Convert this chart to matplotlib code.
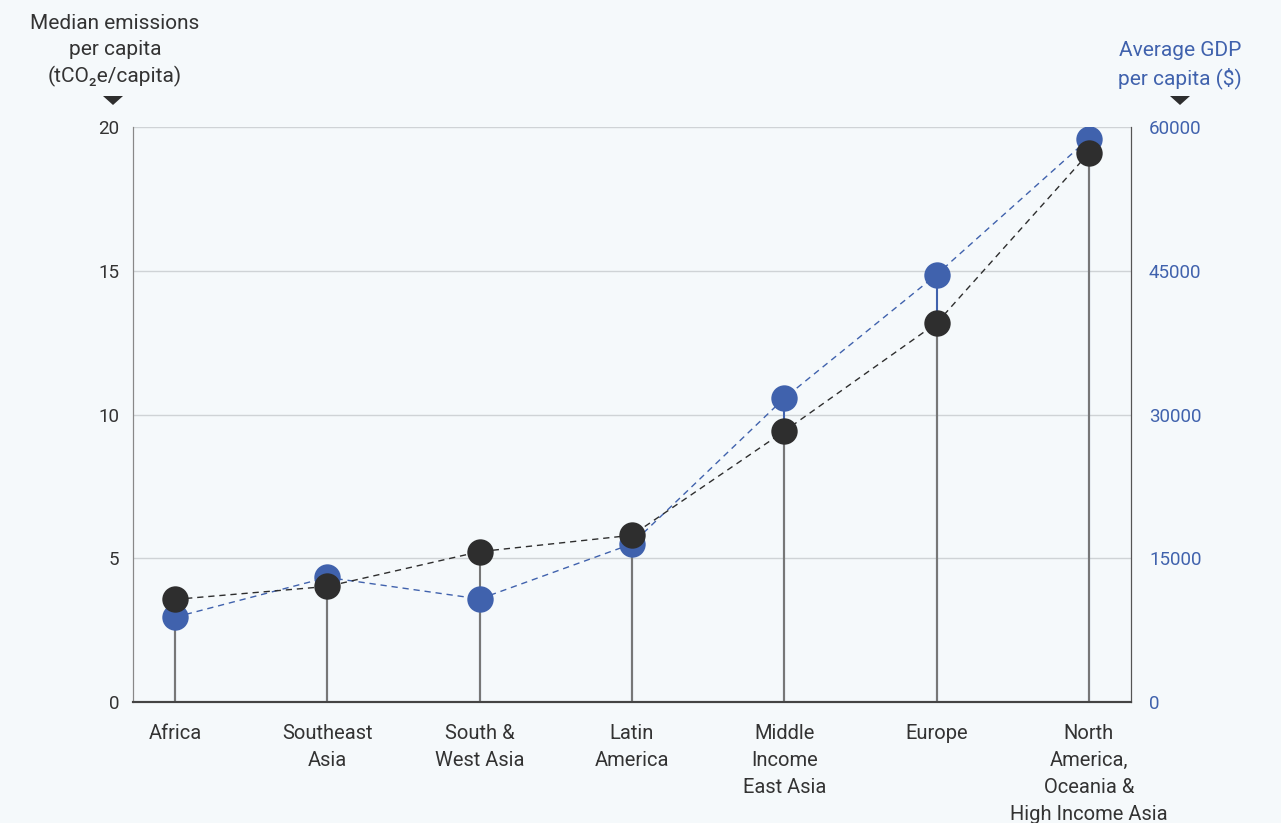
import matplotlib
matplotlib.use("Agg")
import matplotlib.pyplot as plt
from matplotlib.patches import Polygon

regions = ["Africa", "Southeast\nAsia", "South &\nWest Asia", "Latin\nAmerica",
           "Middle\nIncome\nEast Asia", "Europe", "North\nAmerica,\nOceania &\nHigh Income Asia"]
emissions = [3.57, 4.02, 5.23, 5.80, 9.42, 13.18, 19.10]
gdp = [8850, 13000, 10750, 16500, 31700, 44600, 58800]
left_ticks = [0, 5, 10, 15, 20]
right_ticks = [0, 15000, 30000, 45000, 60000]

BG = "#f5f9fb"
BLUE = "#4062ad"
DARK = "#2e2e2e"
TXT = "#333333"
plt.rcParams["font.family"] = ["Roboto", "DejaVu Sans"]

W, H = 1281, 823
fig = plt.figure(figsize=(12.81, 8.23), dpi=100, facecolor=BG)
ax = fig.add_axes([133/W, 1-702/H, (1131-133)/W, (702-127)/H])
ax.set_facecolor(BG)
ax2 = ax.twinx()

x = list(range(len(regions)))
ax.set_xlim(-0.276, 6.276)
ax.set_ylim(0, 20)
ax2.set_ylim(0, 60000)

ax.grid(axis="y", color="#cfd3d6", lw=1)
ax.set_axisbelow(True)

gdp_scaled = [g / 3000 for g in gdp]
# stems
ax.vlines(x, 0, gdp_scaled, color=BLUE, lw=1.5, zorder=2)
ax.vlines(x, 0, emissions, color="#777777", lw=1.5, zorder=3)
# dashed lines
ax.plot(x, gdp_scaled, ls=(0, (4.5, 3.5)), color=BLUE, lw=1, zorder=4)
ax.plot(x, emissions, ls=(0, (4.5, 3.5)), color=DARK, lw=1, zorder=5)
ax.plot(x, gdp_scaled, "o", ms=19, color=BLUE, mec="none", zorder=6)
ax.plot(x, emissions, "o", ms=19, color=DARK, mec="none", zorder=7)

ax.set_yticks(left_ticks)
ax.set_yticklabels([str(t) for t in left_ticks])
ax2.set_yticks(right_ticks)
ax2.set_yticklabels([str(t) for t in right_ticks])
ax.tick_params(axis="y", length=0, pad=10, labelsize=13.5, labelcolor=TXT)
ax2.tick_params(axis="y", length=0, pad=13, labelsize=13.5, labelcolor=BLUE)
ax.set_xticks(x)
ax.set_xticklabels(regions, fontsize=14.5, color=TXT, linespacing=1.52)
ax.tick_params(axis="x", length=0, pad=16)

for a in (ax, ax2):
    a.spines["top"].set_visible(False)
    a.spines["left"].set_color("#888888")
    a.spines["right"].set_color("#555555")
    a.spines["bottom"].set_color("#444444")
    a.spines["bottom"].set_linewidth(1.5)

fig.text(115/W, 1-14/H, "Median emissions\nper capita\n(tCO\u2082e/capita)", ha="center", va="top",
         fontsize=15, color=TXT, linespacing=1.45)
fig.text(1180/W, 1-41/H, "Average GDP\nper capita ($)", ha="center", va="top",
         fontsize=15, color=BLUE, linespacing=1.45)

def tri(cx, cy):
    pts = [((cx-10)/W, 1-(cy-4)/H), ((cx+10)/W, 1-(cy-4)/H), (cx/W, 1-(cy+5)/H)]
    fig.patches.append(Polygon(pts, closed=True, facecolor=DARK, edgecolor="none",
                               transform=fig.transFigure, figure=fig))

tri(113, 100)
tri(1180, 100)

fig.savefig("out.png", dpi=100, facecolor=BG)
